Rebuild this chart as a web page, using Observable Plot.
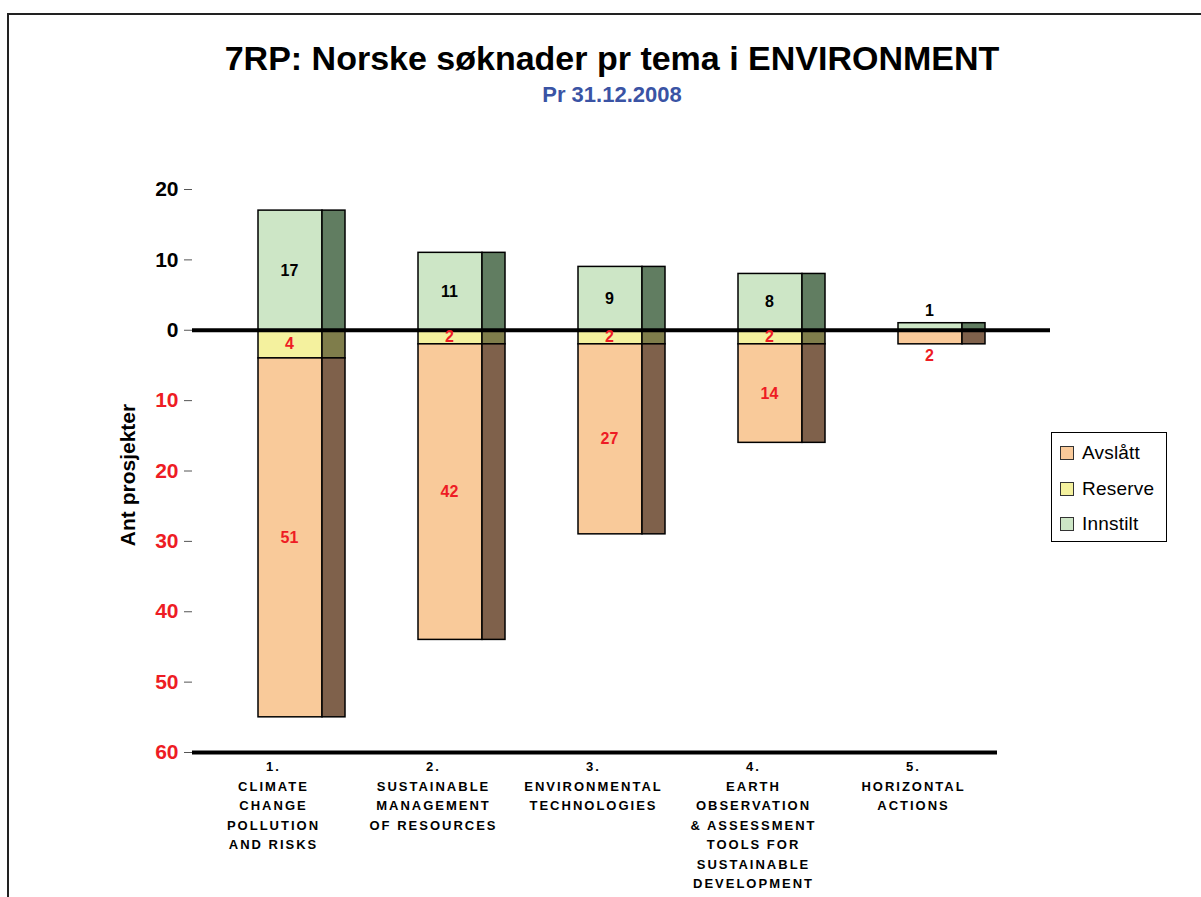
<!DOCTYPE html>
<html>
<head>
<meta charset="utf-8">
<script src="https://cdn.jsdelivr.net/npm/d3@7"></script>
<script src="https://cdn.jsdelivr.net/npm/@observablehq/plot@0.6"></script>
<style>
  html, body { margin: 0; padding: 0; background: #fff; overflow: hidden; }
  body { width: 1201px; height: 897px; position: relative; font-family: "Liberation Sans", Arial, sans-serif; }
  #border { position: absolute; left: 7px; top: 13px; width: 1300px; height: 1000px; border: 2px solid #222; box-sizing: border-box; }
  #head { position: relative; height: 130px; text-align: center; }
  #title { position: absolute; left: 0; width: 1224px; top: 41px; font-size: 34px; line-height: 1; font-weight: bold; color: #000; }
  #subtitle { position: absolute; left: 0; width: 1224px; top: 84px; font-size: 22px; line-height: 1; font-weight: bold; color: #3a53a4; }
  #chart { position: relative; }
  #legend { position: absolute; left: 1051px; top: 432px; width: 116px; height: 110px; border: 1px solid #000; box-sizing: border-box; background: #fff; }
  .li { position: absolute; left: 8px; height: 20px; display: flex; align-items: center; font-size: 19px; letter-spacing: 0.2px; color: #000; }
  .sw { width: 12px; height: 12px; border: 1px solid #333; margin-right: 8px; }
</style>
</head>
<body>
<div id="border"></div>
<div id="head">
  <div id="title">7RP: Norske søknader pr tema i ENVIRONMENT</div>
  <div id="subtitle">Pr 31.12.2008</div>
</div>
<div id="chart"></div>
<div id="legend"></div>
<script>
// ---- data ----
const themes = ["1", "2", "3", "4", "5"];
const themeLabels = [
  "1.\nCLIMATE\nCHANGE\nPOLLUTION\nAND RISKS",
  "2.\nSUSTAINABLE\nMANAGEMENT\nOF RESOURCES",
  "3.\nENVIRONMENTAL\nTECHNOLOGIES",
  "4.\nEARTH\nOBSERVATION\n& ASSESSMENT\nTOOLS FOR\nSUSTAINABLE\nDEVELOPMENT",
  "5.\nHORIZONTAL\nACTIONS"
];
const innstilt = [17, 11, 9, 8, 1];
const reserve  = [4, 2, 2, 2, 0];
const avslatt  = [51, 42, 27, 14, 2];
const seriesNames = ["Avslått", "Reserve", "Innstilt"];
const frontColors = ["#f9ca9a", "#f4f19e", "#cde6c6"];
const sideColors  = ["#7f614b", "#7f7d4b", "#617d61"];
const posTicks = [20, 10, 0];
const negTicks = [-10, -20, -30, -40, -50, -60];

// ---- table ----
const rows = [];
themes.forEach((t, i) => {
  rows.push({theme: t, series: "Innstilt", value: innstilt[i], y1: 0, y2: innstilt[i]});
  rows.push({theme: t, series: "Reserve", value: reserve[i], y1: 0, y2: -reserve[i]});
  rows.push({theme: t, series: "Avslått", value: avslatt[i], y1: -reserve[i], y2: -(reserve[i] + avslatt[i])});
});
const segs = rows.filter(d => d.value > 0);
const total = t => { const i = themes.indexOf(t); return innstilt[i] + reserve[i] + avslatt[i]; };
const inside = segs.filter(d => total(d.theme) >= 5);
const outside = segs.filter(d => total(d.theme) < 5);
const red = "#ee1c24";
const sideOf = s => sideColors[seriesNames.indexOf(s)];
const frontOf = s => frontColors[seriesNames.indexOf(s)];

const plot = Plot.plot({
  width: 1201,
  height: 767,
  marginTop: 59,
  marginBottom: 145,
  marginLeft: 192,
  marginRight: 151,
  style: {fontFamily: "'Liberation Sans', Arial, sans-serif", background: "transparent"},
  x: {type: "band", domain: themes, range: [192, 994], padding: 0, axis: null},
  y: {domain: [-60, 20], axis: null},
  marks: [
    Plot.rectY(segs, {x: "theme", y1: "y1", y2: "y2", fill: d => frontOf(d.series), stroke: "#000", strokeWidth: 1.5, insetLeft: 65, insetRight: 31}),
    Plot.rectY(segs, {x: "theme", y1: "y1", y2: "y2", fill: d => sideOf(d.series), stroke: "#000", strokeWidth: 1.5, insetLeft: 129, insetRight: 8}),
    Plot.ruleY([0], {stroke: "#000", strokeWidth: 4}),
    Plot.ruleY([-60], {stroke: "#000", strokeWidth: 4, insetRight: 53}),
    Plot.ruleX([0], {frameAnchor: "left", y1: 20, y2: -60, stroke: "#000", strokeWidth: 1.5}),
    Plot.axisY(posTicks, {ticks: posTicks, tickFormat: d => Math.abs(d), tickSize: 8, tickPadding: 6, fontSize: 21, fontWeight: "bold", fill: "#000", stroke: "#555", label: null}),
    Plot.axisY(negTicks, {ticks: negTicks, tickFormat: d => Math.abs(d), tickSize: 8, tickPadding: 6, fontSize: 21, fontWeight: "bold", fill: red, stroke: "#555", label: null}),
    Plot.text(["Ant prosjekter"], {frameAnchor: "left", rotate: -90, dx: -64, dy: 4, textAnchor: "middle", fontSize: 21, fontWeight: "bold", fill: "#000"}),
    Plot.text(inside, {x: "theme", y: d => (d.y1 + d.y2) / 2, text: d => String(d.value), dx: 16, fontSize: 16, fontWeight: "bold", fill: d => d.series === "Innstilt" ? "#000" : red}),
    Plot.text(outside.filter(d => d.y2 > 0), {x: "theme", y: "y2", text: d => String(d.value), dx: 16, dy: -12, fontSize: 16, fontWeight: "bold", fill: "#000"}),
    Plot.text(outside.filter(d => d.y2 < 0), {x: "theme", y: "y2", text: d => String(d.value), dx: 16, dy: 12, fontSize: 16, fontWeight: "bold", fill: red}),
    Plot.text(themes, {x: d => d, text: d => themeLabels[themes.indexOf(d)], frameAnchor: "bottom", lineAnchor: "top", dy: 5, lineHeight: 1.5, fontSize: 13, fontWeight: "bold", fill: "#000"})
  ]
});
document.getElementById("chart").appendChild(plot);
d3.select(plot).selectAll("text")
  .filter(function() { return this.querySelectorAll("tspan").length > 1; })
  .style("letter-spacing", "2px");

// legend
const leg = document.getElementById("legend");
seriesNames.forEach((s, i) => {
  const li = document.createElement("div");
  li.className = "li";
  li.style.top = (10 + i * 35.5) + "px";
  const sw = document.createElement("div");
  sw.className = "sw";
  sw.style.background = frontColors[i];
  li.appendChild(sw);
  li.appendChild(document.createTextNode(s));
  leg.appendChild(li);
});
</script>
</body>
</html>
